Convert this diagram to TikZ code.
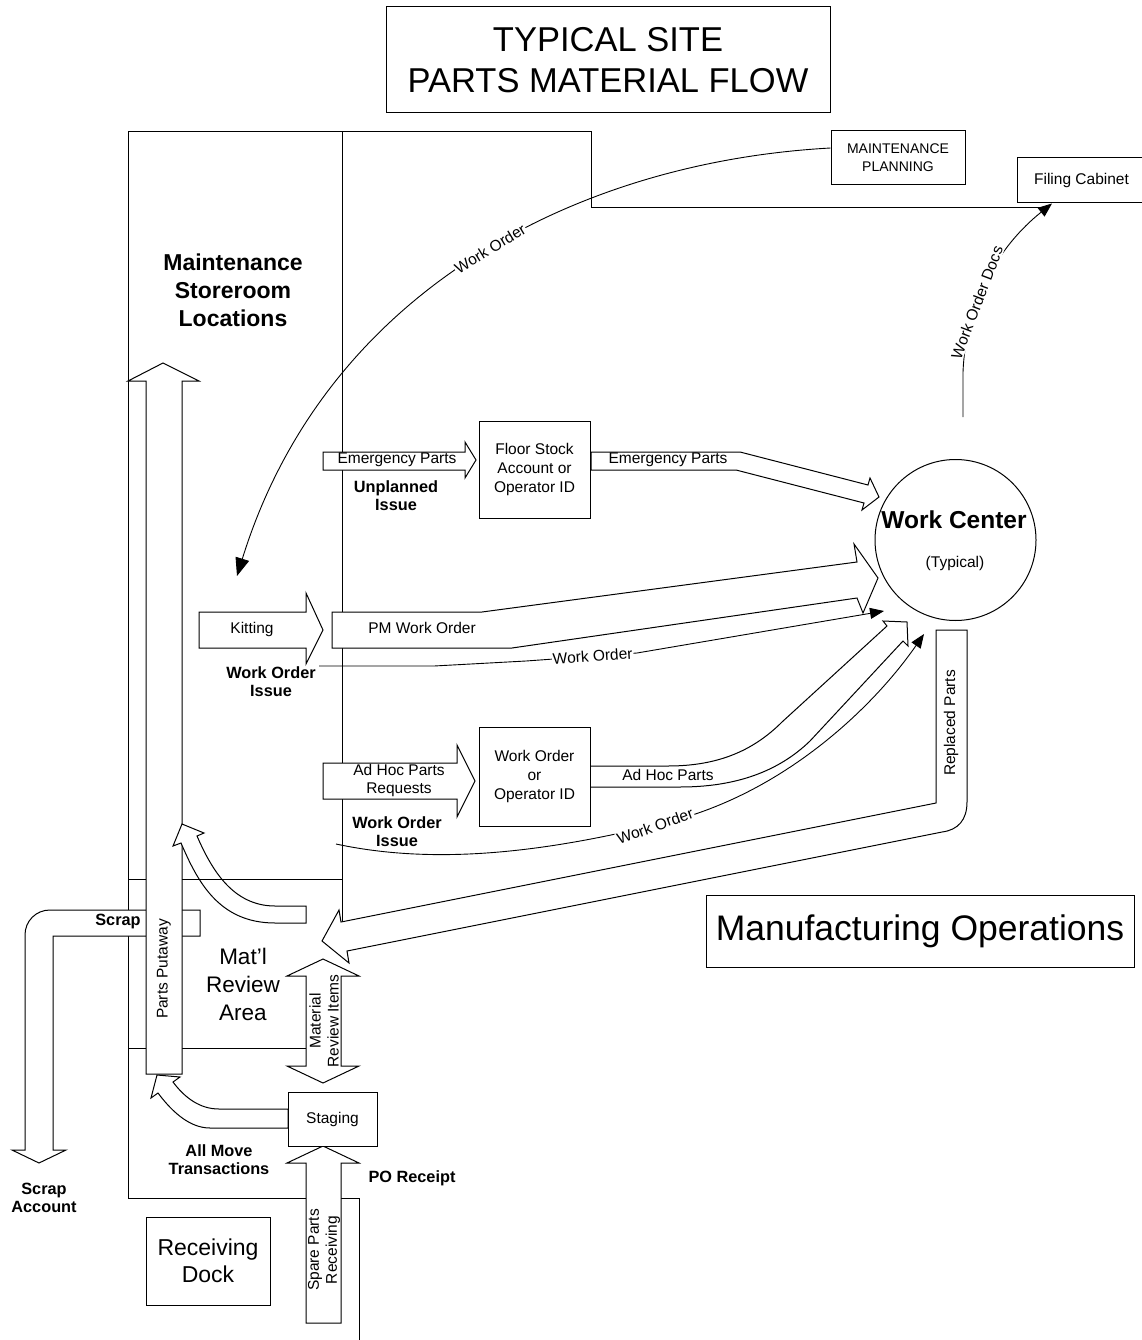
\documentclass[tikz,border=0pt]{standalone}
\usepackage{fontspec}
\setmainfont{Liberation Sans}
\usetikzlibrary{arrows.meta}

\begin{document}
\begin{tikzpicture}[x=1pt,y=-1pt,line width=1pt,
  flowarrow/.style={draw,fill=white},
  stockbox/.style={draw,fill=white,align=center,inner sep=2pt},
  plainlbl/.style={font=\fontsize{15.5}{19}\selectfont,align=center,inner sep=1pt},
  boldlbl/.style={font=\fontsize{16.3}{18}\selectfont\bfseries,align=center,inner sep=1pt},
  docline/.style={line width=0.9pt,-{Triangle[length=14pt,width=11pt]}}]
\useasboundingbox (0,0) rectangle (1141,1340);

% building walls
\draw (1040,208) -- (591,208) -- (591,132) -- (128,132) -- (128,1198) -- (359,1198) -- (359,1340);
\draw (342,132) -- (342,922);
\draw (128,1048) -- (306,1048);

% scrap and putaway
\filldraw[flowarrow] (200,910) -- (50,910) .. controls (36,910) and (25,921) .. (25,935) -- (25,1150) -- (12,1150) -- (39,1163) -- (66,1150) -- (53,1150) -- (53,936) -- (200,936) -- cycle;
\filldraw[flowarrow] (146,1074) -- (146,381) -- (128,381) -- (163,363) -- (199,381) -- (182,381) -- (182,1074) -- cycle;
\filldraw[flowarrow] (306,906) -- (275,906) .. controls (232,906) and (211,868) .. (197,836) -- (204,833) -- (182,824) -- (173,846) -- (181,843) .. controls (197,880) and (218,923) .. (275,923) -- (306,923) -- cycle;
\filldraw[flowarrow] (288,1109) -- (219,1109) .. controls (200,1109) and (185,1098) .. (173,1082) -- (180,1077) -- (157,1075) -- (151,1098) -- (158,1093) .. controls (170,1109) and (188,1128) .. (210,1128) -- (288,1128) -- cycle;
\draw (128,879) -- (146,879);
\draw (182,879) -- (342,879);

% issue arrows
\filldraw[flowarrow] (323,452) -- (465,452) -- (465,442) -- (476,460) -- (465,478) -- (465,470) -- (323,470) -- cycle;
\filldraw[flowarrow] (591,452) -- (740,452) -- (868,485) -- (870,478) -- (879,497) -- (862,510) -- (864,503) -- (736,470) -- (591,470) -- cycle;
\filldraw[flowarrow] (199,612) -- (306,612) -- (306,593) -- (323,630) -- (306,664) -- (306,648) -- (199,648) -- cycle;
\filldraw[flowarrow] (332,612) -- (482,612) -- (857,562) -- (854,544) -- (878,578) -- (863,613) -- (857,598) -- (512,648) -- (332,648) -- cycle;
\filldraw[flowarrow] (323,763) -- (457,763) -- (457,745) -- (475,781) -- (457,817) -- (457,799) -- (323,799) -- cycle;
\filldraw[flowarrow] (590,766) -- (668,766) .. controls (716,766) and (752,752) .. (782,722) -- (887,626) -- (883,621) -- (907,622) -- (908,646) -- (903,641) -- (810,741) .. controls (778,772) and (735,787) .. (680,787) -- (590,787) -- cycle;

% replaced parts back to review
\filldraw[flowarrow] (936,630) -- (967,630) -- (967,802) .. controls (967,820) and (958,830) .. (942,832) -- (347,951) -- (349,963) -- (322,941) -- (339,910) -- (341,922) -- (936,803) -- cycle;

% review, receiving
\filldraw[flowarrow] (306,976) -- (287,976) -- (323,959) -- (359,976) -- (341,976) -- (341,1066) -- (359,1066) -- (323,1083) -- (287,1066) -- (306,1066) -- cycle;
\filldraw[flowarrow] (306,1323) -- (306,1163) -- (287,1163) -- (323,1146) -- (359,1163) -- (341,1163) -- (341,1323) -- cycle;

% boxes
\node[stockbox,minimum width=444pt,minimum height=106pt,font=\fontsize{34.5}{41}\selectfont] (title) at (608,60) {TYPICAL SITE\\PARTS MATERIAL FLOW};
\node[stockbox,minimum width=134pt,minimum height=54pt,font=\fontsize{14}{18}\selectfont] (planning) at (898,158) {MAINTENANCE\\PLANNING};
\node[stockbox,plainlbl,minimum width=128pt,minimum height=45pt,anchor=west] (filing) at (1017,180.5) {Filing Cabinet};
\node[stockbox,plainlbl,minimum width=111pt,minimum height=97pt] (floor) at (534.5,469.5) {Floor Stock\\Account or\\Operator ID};
\node[stockbox,plainlbl,minimum width=111pt,minimum height=99pt] (woid) at (534.5,776.5) {Work Order\\or\\Operator ID};
\node[draw,circle,minimum size=161pt] (wc) at (955.5,540) {};
\node[stockbox,minimum width=428pt,minimum height=72pt,font=\fontsize{35.5}{40}\selectfont] (mfg) at (920,931) {Manufacturing Operations};
\node[stockbox,plainlbl,minimum width=89pt,minimum height=54pt] (staging) at (332.5,1119) {Staging};
\node[stockbox,minimum width=124pt,minimum height=88pt,font=\fontsize{23}{27}\selectfont] (dock) at (208,1261) {Receiving\\Dock};

% texts
\node[boldlbl,font=\fontsize{23}{28}\selectfont\bfseries] (store) at (233,290) {Maintenance\\Storeroom\\Locations};
\node[boldlbl,font=\fontsize{24.5}{28}\selectfont\bfseries] (wctitle) at (954,520) {Work Center};
\node[plainlbl] (wctyp) at (955,563) {(Typical)};
\node[plainlbl] (emerin) at (397,460) {Emergency Parts};
\node[plainlbl] (emerout) at (668,460) {Emergency Parts};
\node[boldlbl] (unplanned) at (396,496) {Unplanned\\Issue};
\node[plainlbl] (kitting) at (252,629) {Kitting};
\node[plainlbl] (pmwo) at (422,628) {PM Work Order};
\node[boldlbl] (woissue) at (271,682) {Work Order\\Issue};
\node[plainlbl,font=\fontsize{15.5}{18}\selectfont] (adhocin) at (399,780) {Ad Hoc Parts\\Requests};
\node[plainlbl] (adhocout) at (668,775) {Ad Hoc Parts};
\node[boldlbl] (woissuetwo) at (397,832) {Work Order\\Issue};
\node[plainlbl,rotate=90] (replaced) at (951,723) {Replaced Parts};
\node[plainlbl,font=\fontsize{22.5}{28}\selectfont] (review) at (243,984) {Mat'l\\Review\\Area};
\node[boldlbl] (scrap) at (118,921) {Scrap};
\node[plainlbl,rotate=90] (putaway) at (164,969) {Parts Putaway};
\node[plainlbl,rotate=90,font=\fontsize{15.5}{18}\selectfont] (reviewitems) at (324,1021) {Material\\Review Items};
\node[boldlbl] (allmove) at (219,1160) {All Move\\Transactions};
\node[boldlbl] (poreceipt) at (412,1178) {PO Receipt};
\node[boldlbl] (scrapacct) at (44,1198) {Scrap\\Account};
\node[plainlbl,rotate=90,font=\fontsize{15.5}{18}\selectfont] (spare) at (324,1250) {Spare Parts\\Receiving};

% work order paper flow
\coordinate (kitend) at (237,576);
\coordinate (wcdoc) at (963,417);
\coordinate (wostart) at (319,666);
\coordinate (woend) at (884,611);
\coordinate (wotwostart) at (336,844);
\coordinate (wotwoend) at (924,634);
\draw[docline,-{Triangle[length=18pt,width=14pt]}] ([yshift=10pt]planning.west) .. controls (575,162) and (325,292) .. (kitend) node[pos=0.47,sloped,fill=white,plainlbl] (wolbl) {Work Order};
\draw[docline] (wcdoc) -- (963,372) .. controls (966,300) and (1000,245) .. ([xshift=35pt]filing.south west) node[pos=0.35,sloped,fill=white,plainlbl] (doclbl) {Work Order Docs};
\draw[docline] (wostart) -- (434,666) -- (526,661) -- (637,653) node[pos=0.6,sloped,fill=white,plainlbl] (wolbltwo) {Work Order} -- (woend);
\draw[docline] (wotwostart) .. controls (420,862) and (520,858) .. (655,825) .. controls (775,800) and (870,712) .. (wotwoend);
\node[plainlbl,fill=white,rotate=20] (wolblthree) at (655,826) {Work Order};
\end{tikzpicture}
\end{document}
